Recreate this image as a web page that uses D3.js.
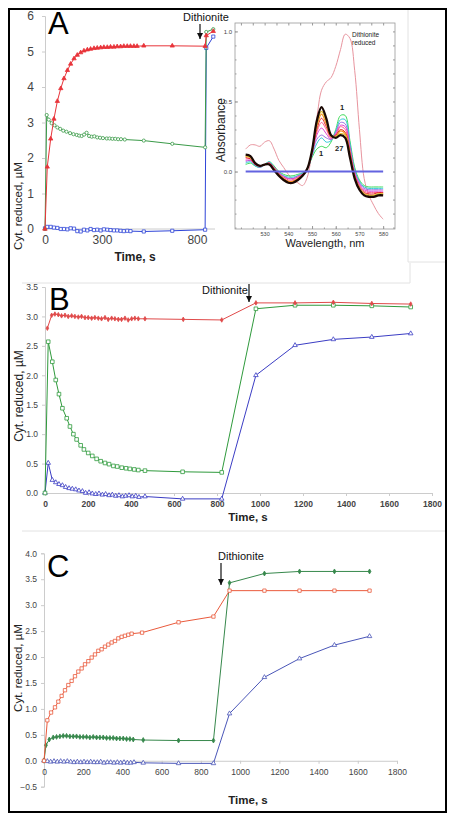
<!DOCTYPE html>
<html><head><meta charset="utf-8">
<script src="https://cdn.jsdelivr.net/npm/d3@7"></script>
<style>body{margin:0;background:#fff}svg{display:block}text{font-family:"Liberation Sans",Arial,sans-serif}</style>
</head><body><svg id="c" width="455" height="822"></svg>
<script>
// ---------- Panel A data ----------
const aRedT = [0,12,30,47,65,83,100,118,135,153,170,188,205,223,240,258,275,293,310,328,345,363,380,398,415,433,450,468,485,520,670,843,849,886];
const aRedV = [0,1.75,2.54,3.1,3.6,3.96,4.24,4.47,4.65,4.8,4.9,4.97,5.02,5.05,5.07,5.09,5.1,5.11,5.12,5.12,5.13,5.13,5.14,5.14,5.15,5.15,5.15,5.15,5.15,5.16,5.16,5.15,5.45,5.57];
const aGreenT = [0,9,20,35,50,65,80,96,113,132,150,167,180,193,206,219,232,246,260,275,290,305,325,340,355,370,385,400,420,520,670,843,849,886];
const aGreenV = [0,3.21,3.08,2.98,2.92,2.86,2.82,2.77,2.74,2.7,2.67,2.65,2.63,2.62,2.66,2.71,2.62,2.6,2.61,2.58,2.57,2.56,2.55,2.55,2.54,2.54,2.53,2.53,2.52,2.49,2.4,2.3,5.55,5.63];
const aBlueT = [0,12,30,47,65,83,100,118,135,153,170,188,205,223,240,258,275,293,310,328,345,363,380,398,415,433,450,520,670,843,849,886];
const aBlueV = [0.02,0.06,0.06,0.04,0.03,0,0,-0.01,0.02,0.01,-0.06,-0.07,-0.02,-0.04,0,-0.03,-0.02,-0.04,-0.01,-0.02,-0.03,-0.04,-0.04,-0.05,-0.06,-0.05,-0.06,-0.07,-0.05,-0.02,5.1,5.42];
const aXTicks = [0,300,800];
const aYTicks = [0,1,2,3,4,5,6];

// ---------- Inset spectra ----------
const specWl = [522,524,526,528,530,532,534,536,538,540,542,544,546,548,550,552,554,556,558,560,562,564,566,568,570,572,574,576,578,580];
const specDithionite = [0.16,0.19,0.19,0.18,0.21,0.22,0.16,0.08,0.03,-0.02,-0.06,-0.08,-0.1,-0.04,0.15,0.38,0.58,0.64,0.67,0.75,0.87,0.98,0.95,0.72,0.3,-0.05,-0.17,-0.24,-0.3,-0.34];
const spec1 = [0.05,0.06,0.04,0.03,0.05,0.07,0.04,0.0,-0.02,-0.03,-0.03,-0.02,-0.01,0.02,0.1,0.16,0.18,0.17,0.21,0.3,0.4,0.4,0.22,0.03,-0.06,-0.1,-0.11,-0.11,-0.11,-0.11];
const specCyan = [0.06,0.07,0.04,0.03,0.05,0.07,0.03,-0.01,-0.03,-0.04,-0.04,-0.03,-0.01,0.02,0.11,0.2,0.24,0.21,0.22,0.29,0.37,0.37,0.2,0.01,-0.07,-0.11,-0.12,-0.12,-0.12,-0.12];
const specViolet = [0.07,0.08,0.05,0.03,0.05,0.06,0.03,-0.01,-0.03,-0.05,-0.05,-0.03,-0.02,0.02,0.12,0.23,0.26,0.24,0.23,0.28,0.35,0.34,0.18,0.0,-0.08,-0.12,-0.13,-0.13,-0.13,-0.13];
const specMagenta = [0.08,0.08,0.05,0.04,0.05,0.06,0.03,-0.01,-0.04,-0.05,-0.05,-0.04,-0.02,0.02,0.12,0.26,0.31,0.27,0.23,0.27,0.33,0.32,0.16,-0.01,-0.09,-0.13,-0.14,-0.14,-0.14,-0.14];
const specPink = [0.09,0.09,0.05,0.04,0.05,0.06,0.02,-0.02,-0.04,-0.06,-0.06,-0.04,-0.02,0.02,0.13,0.28,0.35,0.3,0.24,0.26,0.32,0.3,0.15,-0.02,-0.1,-0.14,-0.15,-0.15,-0.15,-0.15];
const specRed = [0.1,0.09,0.05,0.04,0.05,0.06,0.02,-0.02,-0.05,-0.07,-0.07,-0.05,-0.02,0.02,0.14,0.3,0.38,0.32,0.25,0.26,0.3,0.28,0.13,-0.03,-0.11,-0.15,-0.16,-0.16,-0.15,-0.15];
const specOrange = [0.11,0.1,0.06,0.04,0.05,0.05,0.02,-0.02,-0.05,-0.07,-0.07,-0.05,-0.03,0.02,0.14,0.32,0.41,0.34,0.25,0.25,0.29,0.27,0.13,-0.04,-0.12,-0.16,-0.17,-0.17,-0.16,-0.16];
const specGold = [0.11,0.1,0.06,0.04,0.05,0.05,0.01,-0.03,-0.06,-0.08,-0.08,-0.06,-0.03,0.02,0.15,0.34,0.43,0.36,0.26,0.25,0.27,0.26,0.11,-0.04,-0.12,-0.16,-0.17,-0.17,-0.16,-0.16];
const spec27 = [0.12,0.11,0.06,0.04,0.05,0.05,0.01,-0.03,-0.06,-0.08,-0.08,-0.06,-0.03,0.02,0.15,0.36,0.46,0.38,0.26,0.24,0.26,0.24,0.1,-0.05,-0.13,-0.17,-0.18,-0.18,-0.17,-0.17];
const baseWl = [522,580];
const baseV = [0,0];
const inXTicks = [530,540,550,560,570,580];
const inYTicks = [0,0.5,1.0];

// ---------- Panel B data ----------
const bRedT = [11,31,46,62,77,93,108,124,139,155,170,186,201,217,232,248,263,279,294,310,325,341,356,372,387,403,418,434,465,643,822,981,1163,1341,1520,1701];
const bRedV = [2.8,3.02,3.04,3.03,3.01,3.02,3.0,3.01,3.0,2.99,3.0,2.98,2.98,2.97,2.98,2.97,2.96,2.98,2.95,2.97,2.96,2.95,2.95,2.97,2.94,2.96,2.97,2.96,2.96,2.95,2.94,3.23,3.23,3.24,3.22,3.21];
const bGreenT = [0,15,34,50,65,81,101,116,132,147,166,181,201,220,240,259,279,298,318,336,357,377,395,415,434,465,640,822,981,1163,1341,1520,1701];
const bGreenV = [0,2.57,2.23,1.92,1.68,1.44,1.27,1.13,1.0,0.91,0.81,0.74,0.68,0.63,0.58,0.54,0.51,0.49,0.46,0.45,0.43,0.42,0.41,0.4,0.39,0.38,0.36,0.35,3.13,3.19,3.19,3.18,3.16];
const bBlueT = [0,15,34,50,65,81,96,112,127,143,158,174,189,205,220,236,251,267,282,298,313,329,344,360,375,391,406,422,437,465,640,822,981,1163,1341,1520,1701];
const bBlueV = [0,0.51,0.22,0.18,0.15,0.13,0.1,0.08,0.07,0.06,0.04,0.03,0.0,0.01,-0.01,-0.02,-0.01,-0.03,-0.02,-0.04,-0.03,-0.05,-0.04,-0.06,-0.05,-0.04,-0.06,-0.05,-0.07,-0.06,-0.1,-0.1,2.0,2.51,2.61,2.65,2.71];
const bXTicks = [0,200,400,600,800,1000,1200,1400,1600,1800];
const bYTicks = [0,0.5,1,1.5,2,2.5,3,3.5];

// ---------- Panel C data ----------
const cRedT = [0,17,36,56,73,90,107,124,141,158,175,192,209,226,243,260,277,294,311,328,345,362,379,396,413,430,447,500,686,864,946,1124,1303,1481,1660];
const cRedV = [0,0.78,0.93,1.03,1.14,1.25,1.36,1.46,1.54,1.63,1.72,1.78,1.86,1.92,1.99,2.05,2.12,2.15,2.2,2.24,2.28,2.31,2.36,2.39,2.41,2.43,2.45,2.47,2.67,2.78,3.28,3.28,3.28,3.28,3.28];
const cGreenT = [0,10,27,47,64,81,98,115,132,149,166,183,200,217,234,251,268,285,302,319,336,353,370,387,404,421,438,455,506,686,864,946,1124,1303,1481,1660];
const cGreenV = [0,0.3,0.41,0.45,0.46,0.47,0.48,0.48,0.47,0.47,0.47,0.46,0.46,0.46,0.45,0.46,0.45,0.45,0.45,0.44,0.44,0.44,0.43,0.43,0.43,0.42,0.42,0.41,0.4,0.39,0.39,3.43,3.61,3.65,3.65,3.65];
const cBlueT = [0,17,34,51,68,85,102,119,136,153,170,187,204,221,238,255,272,289,306,323,340,357,374,391,408,425,442,459,506,686,864,946,1124,1303,1481,1660];
const cBlueV = [0,-0.01,-0.02,-0.01,-0.02,-0.01,-0.02,-0.01,-0.02,-0.03,-0.02,-0.03,-0.02,-0.03,-0.02,-0.03,-0.03,-0.02,-0.04,-0.03,-0.03,-0.04,-0.03,-0.04,-0.03,-0.04,-0.04,-0.03,-0.04,-0.05,-0.05,0.91,1.61,1.97,2.23,2.4];
const cXTicks = [0,200,400,600,800,1000,1200,1400,1600,1800];
const cYTicks = [-0.5,0,0.5,1,1.5,2,2.5,3,3.5,4];

// ---------- drawing ----------
const svg = d3.select("#c");
const FONT = '"Liberation Sans",Arial,sans-serif';

svg.append("defs").append("marker").attr("id","arr").attr("viewBox","0 0 10 10")
  .attr("refX",10).attr("refY",5).attr("markerWidth",6).attr("markerHeight",6).attr("orient","auto")
  .attr("markerUnits","userSpaceOnUse")
  .append("path").attr("d","M0,0 L10,5 L0,10 Z").attr("fill","#111");

// faint image-boundary lines
const faint = [[408,10,408,262],[408,262,445,262],[22,283,410,283],[410,263,410,283],[22,531,445,531]];
svg.selectAll("line.faint").data(faint).join("line").attr("class","faint")
  .attr("x1",d=>d[0]).attr("y1",d=>d[1]).attr("x2",d=>d[2]).attr("y2",d=>d[3])
  .attr("stroke","#e2e2e2").attr("stroke-width",1);

function styleAxis(g, color, fs, weight){
  g.select(".domain").attr("stroke",color);
  g.selectAll(".tick line").attr("stroke",color);
  g.selectAll(".tick text").attr("fill","#444").attr("font-size",fs).attr("font-family",FONT).attr("font-weight",weight||"normal");
}

function drawSeries(g, x, y, T, V, color, shape, size, filled, lw){
  const pts = d3.zip(T,V);
  g.append("path").datum(pts).attr("fill","none").attr("stroke",color).attr("stroke-width",lw||1)
    .attr("d", d3.line().x(d=>x(d[0])).y(d=>y(d[1])));
  const sym = d3.symbol().type(shape).size(size);
  g.selectAll(null).data(pts).join("path")
    .attr("transform",d=>`translate(${x(d[0])},${y(d[1])})`)
    .attr("d",sym).attr("fill",filled?color:"#fff").attr("stroke",color).attr("stroke-width",0.8);
}

function dithionite(tx, ty, ax, ay1, ay2, fs){
  svg.append("text").attr("x",tx).attr("y",ty).attr("font-size",fs).attr("fill","#111").text("Dithionite");
  svg.append("line").attr("x1",ax).attr("x2",ax).attr("y1",ay1).attr("y2",ay2).attr("stroke","#111").attr("stroke-width",1.2).attr("marker-end","url(#arr)");
}

// ===== Panel A =====
{
  const x = d3.scaleLinear().domain([0,895]).range([45,215]);
  const y = d3.scaleLinear().domain([0,6]).range([229,16]);
  const g = svg.append("g");
  const ya = g.append("g").attr("transform","translate(45,0)")
    .call(d3.axisLeft(y).tickValues(aYTicks).tickSize(3).tickPadding(8).tickFormat(d3.format("d")));
  styleAxis(ya,"#ccc",12);
  const xa = g.append("g").attr("transform","translate(0,229)")
    .call(d3.axisBottom(x).tickValues(aXTicks).tickSize(0).tickPadding(6).tickFormat(d3.format("d")));
  styleAxis(xa,"#ccc",12);
  xa.select(".domain").attr("d","M45,0H215");
  drawSeries(g,x,y,aBlueT,aBlueV,"#2f45d8",d3.symbolSquare,10,false);
  drawSeries(g,x,y,aGreenT,aGreenV,"#3a9a48",d3.symbolCircle,8,false);
  drawSeries(g,x,y,aRedT,aRedV,"#e8343a",d3.symbolTriangle,8,true);
  svg.append("text").attr("transform","translate(22,206) rotate(-90)")
    .attr("text-anchor","middle").attr("font-size",11.5).attr("fill","#222").text("Cyt. reduced, \u00b5M");
  svg.append("text").attr("x",135).attr("y",261).attr("text-anchor","middle").attr("font-size",12).attr("font-weight","bold").attr("fill","#222").text("Time, s");
  svg.append("text").attr("x",48).attr("y",34).attr("font-size",31).attr("fill","#000").text("A");
  dithionite(183,21,200,24,39,11);
}

// ===== Inset =====
{
  const x = d3.scaleLinear().domain([517.5,585]).range([235,395]);
  const y = d3.scaleLinear().domain([-0.41,1.06]).range([229,23]);
  const g = svg.append("g");
  g.append("rect").attr("x",235).attr("y",23).attr("width",160).attr("height",206).attr("fill","#fff").attr("stroke","#999").attr("stroke-width",0.8);
  const minorX = d3.range(520,585,5), minorY = d3.range(-0.4,1.05,0.1);
  const ab = g.append("g").attr("transform","translate(0,229)").call(d3.axisBottom(x).tickValues(inXTicks).tickSize(-3).tickPadding(3));
  styleAxis(ab,"#999",5.5); ab.select(".domain").remove();
  const ab2 = g.append("g").attr("transform","translate(0,229)").call(d3.axisBottom(x).tickValues(minorX).tickSize(-1.5).tickFormat(""));
  styleAxis(ab2,"#999",5); ab2.select(".domain").remove();
  const at = g.append("g").attr("transform","translate(0,23)").call(d3.axisTop(x).tickValues(minorX).tickSize(-2.5).tickFormat(""));
  styleAxis(at,"#999",5); at.select(".domain").remove();
  const al = g.append("g").attr("transform","translate(235,0)").call(d3.axisLeft(y).tickValues(inYTicks).tickSize(-3).tickPadding(3).tickFormat(d3.format(".1f")));
  styleAxis(al,"#999",6); al.select(".domain").remove();
  const al2 = g.append("g").attr("transform","translate(235,0)").call(d3.axisLeft(y).tickValues(minorY).tickSize(-1.5).tickFormat(""));
  styleAxis(al2,"#999",5); al2.select(".domain").remove();
  const ar = g.append("g").attr("transform","translate(395,0)").call(d3.axisRight(y).tickValues(minorY).tickSize(-2).tickFormat(""));
  styleAxis(ar,"#999",5); ar.select(".domain").remove();

  const line = d3.line().x(d=>x(d[0])).y(d=>y(d[1])).curve(d3.curveCatmullRom);
  const specs = [[specDithionite,"#e8949e",1],[spec1,"#3fdc5a",1],[specCyan,"#2ec8d6",1],[specViolet,"#9a72e0",1],[specMagenta,"#e03ecf",1],
    [specPink,"#ff5a8a",1],[specRed,"#e52222",1],[specOrange,"#f39020",1.1],[specGold,"#e2c232",1.2],[spec27,"#1a0804",2.3]];
  specs.forEach(s=>{
    g.append("path").datum(d3.zip(specWl,s[0])).attr("fill","none").attr("stroke",s[1]).attr("stroke-width",s[2]).attr("d",line);
  });
  g.append("path").datum(d3.zip(baseWl,baseV)).attr("fill","none").attr("stroke","#6363e0").attr("stroke-width",2).attr("d",line);

  svg.append("text").attr("transform","translate(225,130) rotate(-90)").attr("text-anchor","middle").attr("font-size",12).attr("fill","#222").text("Absorbance");
  svg.append("text").attr("x",325).attr("y",247).attr("text-anchor","middle").attr("font-size",11).attr("fill","#222").text("Wavelength, nm");
  svg.append("text").attr("x",352).attr("y",37).attr("font-size",6.5).attr("fill","#222").text("Dithionite");
  svg.append("text").attr("x",352).attr("y",45).attr("font-size",6.5).attr("fill","#222").text("reduced");
  svg.append("text").attr("x",340).attr("y",110).attr("font-size",7.5).attr("font-weight","bold").attr("fill","#222").text("1");
  svg.append("text").attr("x",319).attr("y",156).attr("font-size",7.5).attr("font-weight","bold").attr("fill","#222").text("1");
  svg.append("text").attr("x",335).attr("y",151).attr("font-size",7.5).attr("font-weight","bold").attr("fill","#222").text("27");
}

// ===== Panel B =====
{
  const x = d3.scaleLinear().domain([0,1800]).range([45,432]);
  const y = d3.scaleLinear().domain([0,3.5]).range([493,287]);
  const g = svg.append("g");
  const ya = g.append("g").attr("transform","translate(45,0)")
    .call(d3.axisLeft(y).tickValues(bYTicks).tickSize(3).tickPadding(4).tickFormat(d3.format(".1f")));
  styleAxis(ya,"#ccc",8.5);
  const xa = g.append("g").attr("transform","translate(0,"+y(0)+")")
    .call(d3.axisBottom(x).tickValues(bXTicks).tickSize(3).tickPadding(5).tickFormat(d3.format("d")));
  styleAxis(xa,"#ccc",8.5,"bold");
  drawSeries(g,x,y,bBlueT,bBlueV,"#3b3dc4",d3.symbolTriangle,9,false);
  drawSeries(g,x,y,bGreenT,bGreenV,"#2f9a3c",d3.symbolSquare,13,false);
  drawSeries(g,x,y,bRedT,bRedV,"#e04a4a",d3.symbolDiamond,6,true);
  svg.append("text").attr("transform","translate(23,396) rotate(-90)").attr("text-anchor","middle").attr("font-size",12).attr("fill","#222").text("Cyt. reduced, \u00b5M");
  svg.append("text").attr("x",248).attr("y",521).attr("text-anchor","middle").attr("font-size",11.5).attr("font-weight","bold").attr("fill","#222").text("Time, s");
  svg.append("text").attr("x",49).attr("y",310).attr("font-size",31).attr("fill","#000").text("B");
  dithionite(202,294,249,284,302,11);
}

// ===== Panel C =====
{
  const x = d3.scaleLinear().domain([0,1800]).range([44,397]);
  const y = d3.scaleLinear().domain([-0.5,4]).range([786.7,553.3]);
  const g = svg.append("g");
  const ya = g.append("g").attr("transform","translate(44,0)")
    .call(d3.axisLeft(y).tickValues(cYTicks).tickSize(3).tickPadding(4).tickFormat(d3.format(".1f")));
  styleAxis(ya,"#ccc",8.5);
  const xa = g.append("g").attr("transform","translate(0,"+y(0)+")")
    .call(d3.axisBottom(x).tickValues(cXTicks).tickSize(3).tickPadding(5).tickFormat(d3.format("d")));
  styleAxis(xa,"#ccc",8.5);
  drawSeries(g,x,y,cBlueT,cBlueV,"#4a56b8",d3.symbolTriangle,9,false);
  drawSeries(g,x,y,cGreenT,cGreenV,"#37884c",d3.symbolDiamond,7,true);
  drawSeries(g,x,y,cRedT,cRedV,"#ea5a3c",d3.symbolSquare,11,false);
  svg.append("text").attr("transform","translate(22,668) rotate(-90)").attr("text-anchor","middle").attr("font-size",11.5).attr("fill","#222").text("Cyt. reduced, \u00b5M");
  svg.append("text").attr("x",248).attr("y",804).attr("text-anchor","middle").attr("font-size",11.5).attr("font-weight","bold").attr("fill","#222").text("Time, s");
  svg.append("text").attr("x",47).attr("y",577).attr("font-size",31).attr("fill","#000").text("C");
  dithionite(218,560,221,563,585,11);
}

// outer frame
svg.append("rect").attr("x",9).attr("y",9).attr("width",437).attr("height",803).attr("fill","none").attr("stroke","#000").attr("stroke-width",2);
</script></body></html>
